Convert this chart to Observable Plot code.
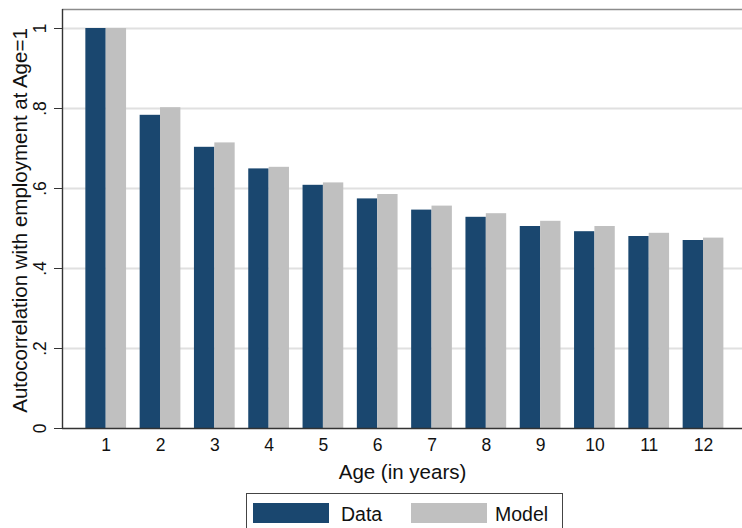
<!DOCTYPE html>
<html>
<head>
<meta charset="utf-8">
<script src="https://cdn.jsdelivr.net/npm/d3@7"></script>
<script src="https://cdn.jsdelivr.net/npm/@observablehq/plot@0.6"></script>
<style>
  body { margin: 0; background: #fff; font-family: "Liberation Sans", Arial, Helvetica, sans-serif; }
  #chart { position: relative; width: 742px; height: 528px; overflow: hidden; background: #fff; }
  .legend { position: absolute; left: 246px; top: 493px; width: 317px; height: 46px;
            border: 1px solid #444; box-sizing: border-box; background: #fff; }
  .legend .swatch { position: absolute; top: 9px; width: 76px; height: 20px; }
  .legend .label { position: absolute; top: 10px; font-size: 19.5px; line-height: 20px; color: #111; white-space: nowrap; }
</style>
</head>
<body>
<div id="chart"></div>
<script>
// Age at which the autocorrelation is measured
const ages = [1, 2, 3, 4, 5, 6, 7, 8, 9, 10, 11, 12];
const xTickLabels = ["1", "2", "3", "4", "5", "6", "7", "8", "9", "10", "11", "12"];

// Autocorrelation with employment at age 1
const dataValues  = [1.000, 0.783, 0.703, 0.649, 0.608, 0.574, 0.546, 0.528, 0.505, 0.492, 0.480, 0.470];
const modelValues = [1.000, 0.802, 0.714, 0.653, 0.614, 0.585, 0.556, 0.537, 0.518, 0.505, 0.488, 0.476];

const seriesNames  = ["Data", "Model"];
const seriesColors = ["#1a476f", "#c0c0c0"];

const yTickValues = [0, 0.2, 0.4, 0.6, 0.8, 1];
const yTickLabels = ["0", ".2", ".4", ".6", ".8", "1"];

const xTitle = "Age (in years)";
const yTitle = "Autocorrelation with employment at Age=1";

// Scale extents (plot region slightly wider/taller than the data)
const xDomain = [0.195, 12.718];
const yDomain = [0, 1.0475];
const halfGroup = 0.375; // each bar is half of a group's width

const rows = ages.flatMap((age, i) => [
  { age, series: seriesNames[0], value: dataValues[i], side: -1 },
  { age, series: seriesNames[1], value: modelValues[i], side: 0 }
]);

const font = '"Liberation Sans", Arial, Helvetica, sans-serif';

const chart = Plot.plot({
  width: 742,
  height: 490,
  marginTop: 9,
  marginBottom: 62,
  marginLeft: 62,
  marginRight: 0,
  style: { fontFamily: font, background: "#fff", color: "#111", overflow: "visible" },
  x: { domain: xDomain, axis: null },
  y: { domain: yDomain, axis: null },
  color: { domain: seriesNames, range: seriesColors },
  marks: [
    Plot.gridY(yTickValues.filter((v) => v > 0), { stroke: "#e0e0e0", strokeOpacity: 1, strokeWidth: 2 }),
    Plot.rectY(rows, {
      x1: (d) => d.age + d.side * halfGroup,
      x2: (d) => d.age + (d.side + 1) * halfGroup,
      y1: 0,
      y2: "value",
      fill: "series"
    }),
    Plot.ruleY([yDomain[1]], { stroke: "#8c8c8c", strokeWidth: 1.5 }),
    Plot.ruleY([0], { stroke: "#333", strokeWidth: 1.4 }),
    Plot.ruleX([xDomain[0]], { stroke: "#333", strokeWidth: 1.4 }),
    Plot.axisY(yTickValues, { tickSize: 8, tickFormat: () => "", stroke: "#333", label: null }),
    Plot.text(yTickValues, {
      y: (d) => d,
      text: (d, i) => yTickLabels[i],
      frameAnchor: "left",
      dx: -22.6,
      rotate: -90,
      textAnchor: "middle",
      lineAnchor: "middle",
      fontSize: 17.5,
      fill: "#111"
    }),
    Plot.text(ages, {
      x: (d) => d,
      text: (d, i) => xTickLabels[i],
      frameAnchor: "bottom",
      dy: 17,
      lineAnchor: "middle",
      fontSize: 17.5,
      fill: "#111"
    }),
    Plot.text([xTitle], {
      text: (d) => d,
      frameAnchor: "bottom",
      dy: 43.7,
      lineAnchor: "middle",
      fontSize: 20.5,
      fill: "#111"
    }),
    Plot.text([yTitle], {
      text: (d) => d,
      frameAnchor: "left",
      dx: -41.6,
      dy: 1.5,
      rotate: -90,
      textAnchor: "middle",
      lineAnchor: "middle",
      fontSize: 20.5,
      fill: "#111"
    })
  ]
});

const container = document.getElementById("chart");
container.appendChild(chart);

// Legend box below the plot
const legend = document.createElement("div");
legend.className = "legend";
const swatchLeft = [6, 164];
const labelLeft = [94, 248];
seriesNames.forEach((name, i) => {
  const sw = document.createElement("div");
  sw.className = "swatch";
  sw.style.left = swatchLeft[i] + "px";
  sw.style.background = seriesColors[i];
  legend.appendChild(sw);
  const lb = document.createElement("div");
  lb.className = "label";
  lb.style.left = labelLeft[i] + "px";
  lb.textContent = name;
  legend.appendChild(lb);
});
container.appendChild(legend);
</script>
</body>
</html>
